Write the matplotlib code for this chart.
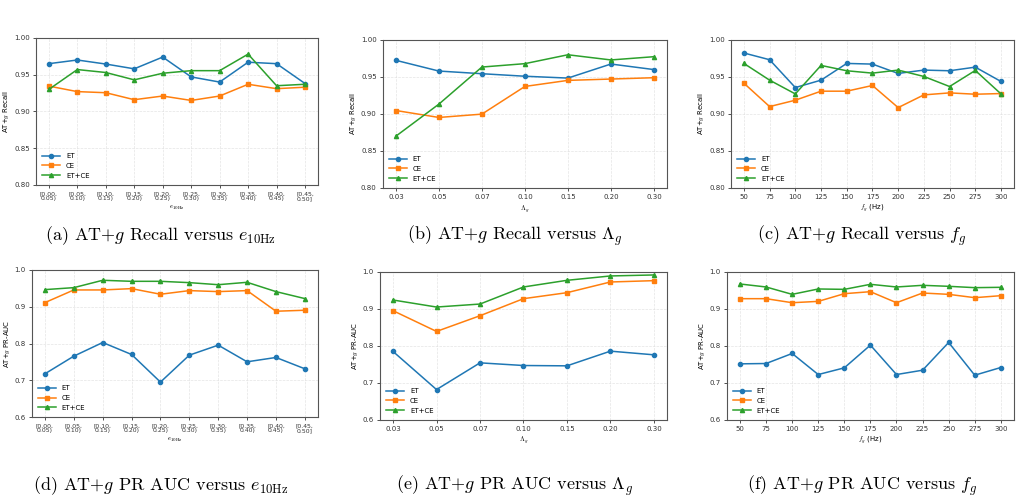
import numpy as np
import matplotlib
matplotlib.use("Agg")
import matplotlib.pyplot as plt

plt.rcParams["mathtext.fontset"] = "cm"

# ---- data ----
e10_labels = ["[0.00,\n0.05)", "[0.05,\n0.10)", "[0.10,\n0.15)", "[0.15,\n0.20)", "[0.20,\n0.25)",
              "[0.25,\n0.30)", "[0.30,\n0.35)", "[0.35,\n0.40)", "[0.40,\n0.45)", "[0.45,\n0.50]"]
lam_labels = ["0.03", "0.05", "0.07", "0.10", "0.15", "0.20", "0.30"]
fg_vals = [50, 75, 100, 125, 150, 175, 200, 225, 250, 275, 300]

rec_e10_et = [0.965, 0.970, 0.9645, 0.958, 0.974, 0.947, 0.940, 0.967, 0.965, 0.938]
rec_e10_ce = [0.9345, 0.927, 0.9255, 0.916, 0.921, 0.915, 0.921, 0.937, 0.931, 0.933]
rec_e10_both = [0.930, 0.957, 0.953, 0.943, 0.952, 0.9555, 0.9555, 0.978, 0.935, 0.937]

rec_lam_et = [0.9725, 0.958, 0.9544, 0.951, 0.9485, 0.9675, 0.960]
rec_lam_ce = [0.9047, 0.8953, 0.8998, 0.9372, 0.9454, 0.9472, 0.949]
rec_lam_both = [0.870, 0.9133, 0.9634, 0.968, 0.980, 0.973, 0.9774]

rec_fg_et = [0.9824, 0.9733, 0.9357, 0.9457, 0.9683, 0.9674, 0.9548, 0.9593, 0.9584, 0.9633, 0.9439]
rec_fg_ce = [0.9416, 0.910, 0.9186, 0.9308, 0.9308, 0.9385, 0.9086, 0.9258, 0.9285, 0.9267, 0.9276]
rec_fg_both = [0.9683, 0.9457, 0.9271, 0.9656, 0.9584, 0.9552, 0.9593, 0.9507, 0.9371, 0.9588, 0.9271]

auc_e10_et = [0.7176, 0.7656, 0.8027, 0.7701, 0.695, 0.7683, 0.7955, 0.7502, 0.762, 0.7312]
auc_e10_ce = [0.9113, 0.9457, 0.9457, 0.9493, 0.934, 0.9439, 0.9412, 0.9439, 0.8878, 0.8905]
auc_e10_both = [0.9466, 0.952, 0.972, 0.9692, 0.9692, 0.9656, 0.960, 0.9665, 0.9412, 0.9222]

auc_lam_et = [0.7851, 0.6822, 0.7544, 0.7472, 0.7463, 0.786, 0.7761]
auc_lam_ce = [0.8953, 0.8393, 0.8817, 0.9278, 0.944, 0.9729, 0.9765]
auc_lam_both = [0.9242, 0.9052, 0.9133, 0.9594, 0.9774, 0.9892, 0.9919]

auc_fg_et = [0.7517, 0.7526, 0.7797, 0.7228, 0.7409, 0.8023, 0.7228, 0.7345, 0.8095, 0.721, 0.7418]
auc_fg_ce = [0.9278, 0.9278, 0.9169, 0.9205, 0.9413, 0.9467, 0.9169, 0.9431, 0.9395, 0.9305, 0.9359]
auc_fg_both = [0.9675, 0.9594, 0.9395, 0.954, 0.953, 0.9666, 0.9594, 0.9639, 0.9612, 0.9576, 0.9585]

C_ET, C_CE, C_BOTH = "#1f77b4", "#ff7f0e", "#2ca02c"
FS = 5.0


def panel(ax, x, et, ce, both, ylim, yticks, yfmt, ylabel, xlabel, xticklabels=None, xtfs=FS):
    kw = dict(lw=1.1, ms=3.0)
    ax.plot(x, et, marker="o", color=C_ET, label="ET", **kw)
    ax.plot(x, ce, marker="s", color=C_CE, label="CE", **kw)
    ax.plot(x, both, marker="^", color=C_BOTH, label="ET+CE", **kw)
    ax.set_ylim(*ylim)
    ax.set_yticks(yticks)
    ax.set_yticklabels([yfmt.format(t) for t in yticks], fontsize=FS)
    ax.set_xticks(x)
    if xticklabels is not None:
        ax.set_xticklabels(xticklabels, fontsize=xtfs, linespacing=1.0)
    else:
        ax.tick_params(axis="x", labelsize=FS)
    ax.set_ylabel(ylabel, fontsize=FS, labelpad=2)
    ax.set_xlabel(xlabel, fontsize=FS, labelpad=2)
    ax.grid(True, ls="--", lw=0.5, color="#dddddd", alpha=0.8)
    ax.tick_params(length=2.5, width=0.6, pad=2, colors="#333333")
    for s in ax.spines.values():
        s.set_color("#555555")
        s.set_linewidth(0.8)
    ax.legend(loc="lower left", fontsize=FS, frameon=False, handlelength=2.6,
              borderaxespad=0.5, labelspacing=0.55)


fig = plt.figure(figsize=(10.21, 5.04), dpi=100)

ax_a = fig.add_axes([0.0353, 0.633, 0.276, 0.2917])
ax_b = fig.add_axes([0.3751, 0.627, 0.278, 0.2937])
ax_c = fig.add_axes([0.716, 0.627, 0.277, 0.2937])
ax_d = fig.add_axes([0.0313, 0.1726, 0.280, 0.2917])
ax_e = fig.add_axes([0.3722, 0.1667, 0.281, 0.2937])
ax_f = fig.add_axes([0.712, 0.1667, 0.281, 0.2937])

rec_ticks = [0.80, 0.85, 0.90, 0.95, 1.00]
auc_ticks = [0.6, 0.7, 0.8, 0.9, 1.0]
xe = np.arange(len(e10_labels))
xl = np.arange(len(lam_labels))

panel(ax_a, xe, rec_e10_et, rec_e10_ce, rec_e10_both, (0.80, 1.00), rec_ticks, "{:.2f}",
      "AT+$g$ Recall", r"$e_{10\mathrm{Hz}}$", e10_labels, xtfs=4.4)
panel(ax_b, xl, rec_lam_et, rec_lam_ce, rec_lam_both, (0.80, 1.00), rec_ticks, "{:.2f}",
      "AT+$g$ Recall", r"$\Lambda_g$", lam_labels)
panel(ax_c, fg_vals, rec_fg_et, rec_fg_ce, rec_fg_both, (0.80, 1.00), rec_ticks, "{:.2f}",
      "AT+$g$ Recall", r"$f_g$ (Hz)")
panel(ax_d, xe, auc_e10_et, auc_e10_ce, auc_e10_both, (0.6, 1.0), auc_ticks, "{:.1f}",
      "AT+$g$ PR-AUC", r"$e_{10\mathrm{Hz}}$", e10_labels, xtfs=4.4)
panel(ax_e, xl, auc_lam_et, auc_lam_ce, auc_lam_both, (0.6, 1.0), auc_ticks, "{:.1f}",
      "AT+$g$ PR-AUC", r"$\Lambda_g$", lam_labels)
panel(ax_f, fg_vals, auc_fg_et, auc_fg_ce, auc_fg_both, (0.6, 1.0), auc_ticks, "{:.1f}",
      "AT+$g$ PR-AUC", r"$f_g$ (Hz)")

# sub-captions
cap = dict(fontsize=13, family="cmr10", ha="center", va="center")
fig.text(161 / 1021, 1 - 236 / 504, r"(a) AT+$g$ Recall versus $e_{10\mathrm{Hz}}$", **cap)
fig.text(515 / 1021, 1 - 236 / 504, r"(b) AT+$g$ Recall versus $\Lambda_g$", **cap)
fig.text(862 / 1021, 1 - 236 / 504, r"(c) AT+$g$ Recall versus $f_g$", **cap)
fig.text(161 / 1021, 1 - 486 / 504, r"(d) AT+$g$ PR AUC versus $e_{10\mathrm{Hz}}$", **cap)
fig.text(515 / 1021, 1 - 486 / 504, r"(e) AT+$g$ PR AUC versus $\Lambda_g$", **cap)
fig.text(862 / 1021, 1 - 486 / 504, r"(f) AT+$g$ PR AUC versus $f_g$", **cap)

fig.savefig("out.png", dpi=100)
